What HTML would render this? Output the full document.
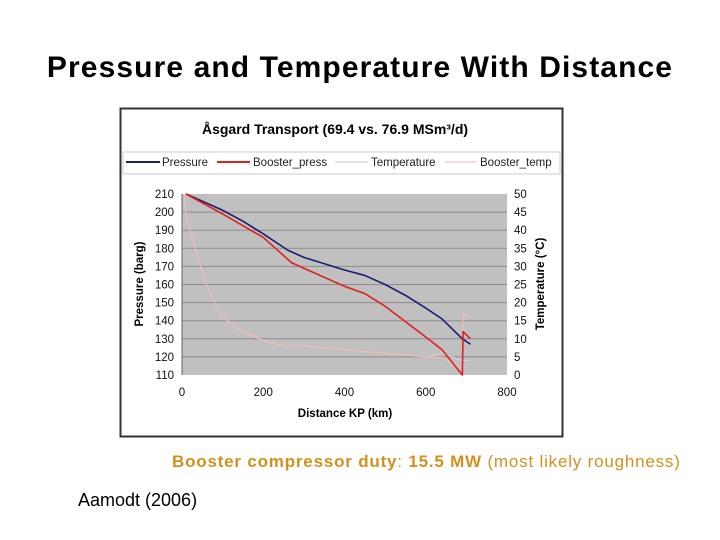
<!DOCTYPE html>
<html><head><meta charset="utf-8"><style>
body{margin:0;width:720px;height:540px;background:#fff;overflow:hidden;position:relative;font-family:"Liberation Sans",sans-serif}
.t{position:absolute}
</style></head><body>
<div class="t" style="left:0;width:720px;top:51px;text-align:center;font-weight:bold;font-size:30px;letter-spacing:1.1px;color:#000;white-space:nowrap">Pressure and Temperature With Distance</div>
<svg class="t" style="left:0;top:0" width="720" height="540" id="svg" font-family="Liberation Sans, sans-serif">
<rect x="120.5" y="108.5" width="442" height="328" fill="#fff" stroke="#333" stroke-width="2"/>
<text x="335" y="134" text-anchor="middle" font-size="14" font-weight="bold">Åsgard Transport (69.4 vs. 76.9 MSm³/d)</text>
<rect x="123" y="152" width="437" height="22" fill="#fff" stroke="#ccc"/>
<g font-size="11.5" fill="#222">
<line x1="126" y1="162" x2="160" y2="162" stroke="#1a1f6e" stroke-width="2"/><text x="162" y="166">Pressure</text>
<line x1="217" y1="162" x2="250" y2="162" stroke="#e02020" stroke-width="2"/><text x="253" y="166">Booster_press</text>
<line x1="335" y1="162" x2="368" y2="162" stroke="#c8c8d0" stroke-width="1"/><text x="371" y="166">Temperature</text>
<line x1="445" y1="162" x2="477" y2="162" stroke="#f4b8b8" stroke-width="1"/><text x="480" y="166">Booster_temp</text>
</g>
<rect x="182" y="194" width="325" height="181" fill="#c0c0c0"/>
<g id="grid"></g><g id="series"></g><g id="ticks" font-size="11.5" fill="#111"></g>
<text transform="translate(143,284) rotate(-90)" text-anchor="middle" font-size="11.5" font-weight="bold">Pressure (barg)</text>
<text transform="translate(544,284) rotate(-90)" text-anchor="middle" font-size="11.5" font-weight="bold">Temperature (°C)</text>
<text x="345" y="417" text-anchor="middle" font-size="11.5" font-weight="bold">Distance KP (km)</text>
</svg>
<div class="t" style="left:172px;top:452px;font-size:17px;letter-spacing:0.8px;color:#d4901e;white-space:nowrap"><b>Booster compressor duty</b>: <b>15.5 MW</b> (most likely roughness)</div>
<div class="t" style="left:78px;top:490px;font-size:18px">Aamodt (2006)</div>
<script>
const xTicks=[0,200,400,800,600];
const yTicks=[110,120,130,140,150,160,170,180,190,200,210];
const y2Ticks=[0,5,10,15,20,25,30,35,40,45,50];
const pressKm=[10,50,100,150,200,260,300,400,450,500,550,600,640,690,710];
const pressVal=[210,206,201,195,188,179,175,168,165,160,154,147,141,130,127];
const boostKm=[10,100,200,270,300,400,450,500,600,640,690,692,710];
const boostVal=[210,199,186,172,169,159,155,148,131,124,110,134,130];
const tempKm=[5,10,20,40,60,80,100,150,200,250,300,400,500,600,640,690,710];
const tempVal=[50,44,40,32,25,20,16,12,9.5,8,8,7,6,5,6,4,4];
const btKm=[5,10,20,40,60,80,100,150,200,250,300,400,500,600,640,690,692,710];
const btVal=[50,44,40,32,25,20,16,12,9.5,8,8,7,6,5,4.8,2,17,16];
const X=v=>182+v/800*325, Y=v=>375-(v-110)/100*181, Y2=v=>375-v/50*181;
const NS='http://www.w3.org/2000/svg';
function mk(t,a,p){const e=document.createElementNS(NS,t);for(const k in a)e.setAttribute(k,a[k]);document.getElementById(p).appendChild(e);return e;}
yTicks.forEach(v=>{
 if(v>110&&v<210){const g=mk('line',{x1:182,x2:507,y1:Y(v),y2:Y(v),stroke:'#8c8c8c'},'grid');
 
 }
 const t=mk('text',{x:174,y:Y(v)+4,'text-anchor':'end'},'ticks');t.textContent=v;
 
 
});
y2Ticks.forEach(v=>{const t=mk('text',{x:514,y:Y2(v)+4},'ticks');t.textContent=v;
 
 });
xTicks.forEach(v=>{const t=mk('text',{x:X(v),y:396,'text-anchor':'middle'},'ticks');t.textContent=v;
 
 });
const ax=mk('line',{x1:182,x2:182,y1:194,y2:375,stroke:'#666'},'grid');


function line(ks,vs,f,col,w,name){const p=mk('polyline',{points:ks.map((k,i)=>X(k)+','+f(vs[i])).join(' '),fill:'none',stroke:col,'stroke-width':w,'stroke-linejoin':'round'},'series');
 
 }
line(tempKm,tempVal,Y2,'#d0d0d8',1,'temperature-line');
line(btKm,btVal,Y2,'#f4b8b8',1.2,'booster-temp-line');
line(pressKm,pressVal,Y,'#1a1f6e',1.6,'pressure-line');
line(boostKm,boostVal,Y,'#e02020',1.6,'booster-press-line');
</script>
</body></html>
